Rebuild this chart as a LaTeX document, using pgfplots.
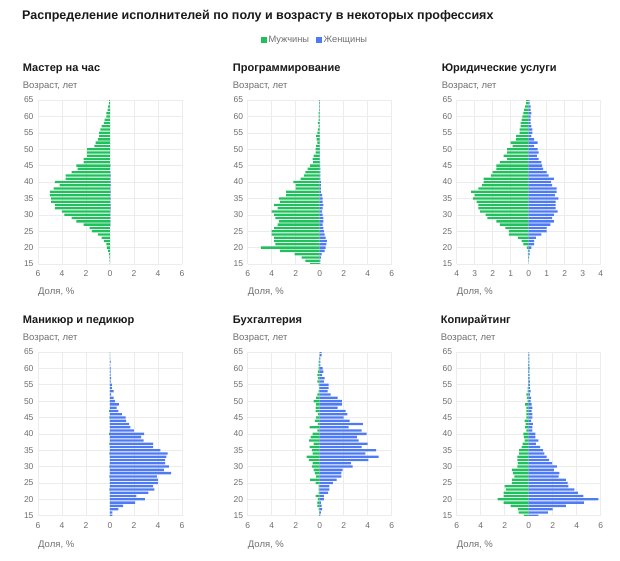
\documentclass[border=0pt]{standalone}
\usepackage{fontspec}
\setmainfont{Liberation Sans}
\usepackage{pgfplots}
\usepackage{pgfplotstable}
\pgfplotsset{compat=1.18}

\definecolor{mgreen}{RGB}{32,192,92}
\definecolor{wblue}{RGB}{78,122,244}
\definecolor{gridc}{RGB}{236,236,236}
\definecolor{tickc}{RGB}{110,110,110}
\definecolor{titc}{RGB}{25,25,25}

% age, men share, women share
\pgfplotstableread{
age m w
65 0.08 0
64 0.10 0
63 0.15 0
62 0.20 0
61 0.30 0
60 0.30 0
59 0.45 0
58 0.50 0
57 0.70 0
56 0.80 0
55 0.90 0
54 0.90 0
53 1.00 0
52 1.20 0
51 1.30 0
50 1.90 0
49 1.90 0
48 1.90 0
47 2.20 0
46 2.20 0
45 2.80 0.03
44 2.70 0
43 3.20 0.03
42 3.70 0.05
41 3.70 0.03
40 4.60 0.05
39 4.20 0.05
38 4.70 0.03
37 5.00 0.05
36 5.00 0.03
35 4.90 0.05
34 4.90 0.03
33 4.60 0.05
32 4.60 0.05
31 4.00 0.03
30 3.80 0.03
29 3.20 0.03
28 2.80 0.03
27 2.20 0.03
26 1.70 0
25 1.50 0
24 1.00 0
23 0.70 0
22 0.50 0
21 0.30 0
20 0.25 0
19 0.15 0
18 0.10 0
17 0.05 0
16 0.03 0
15 0.00 0
}\tabA

\pgfplotstableread{
age m w
65 0.05 0.02
64 0.05 0
63 0.05 0
62 0.05 0
61 0.10 0
60 0.10 0
59 0.10 0
58 0.15 0
57 0.10 0
56 0.15 0
55 0.20 0
54 0.30 0.02
53 0.25 0
52 0.20 0
51 0.30 0.02
50 0.35 0.02
49 0.35 0.02
48 0.50 0.02
47 0.60 0.02
46 0.55 0.03
45 0.80 0.03
44 1.00 0.05
43 1.20 0.05
42 1.30 0.05
41 1.60 0.05
40 2.20 0.10
39 2.00 0.10
38 2.00 0.10
37 2.80 0.10
36 2.80 0.20
35 3.40 0.25
34 3.30 0.25
33 3.80 0.30
32 3.50 0.25
31 4.00 0.20
30 3.80 0.25
29 3.70 0.30
28 3.40 0.30
27 3.50 0.25
26 3.80 0.30
25 4.00 0.35
24 4.00 0.40
23 3.80 0.50
22 3.80 0.60
21 3.70 0.55
20 4.90 0.50
19 3.30 0.40
18 2.10 0.15
17 1.50 0.10
16 1.20 0.05
15 0.80 0.05
}\tabB

\pgfplotstableread{
age m w
65 0.15 0.05
64 0.15 0.05
63 0.20 0.10
62 0.25 0.10
61 0.30 0.15
60 0.35 0.10
59 0.40 0.10
58 0.45 0.10
57 0.45 0.15
56 0.50 0.20
55 0.50 0.20
54 0.70 0.15
53 0.70 0.30
52 1.00 0.50
51 0.90 0.30
50 1.20 0.50
49 1.20 0.55
48 1.40 0.45
47 1.20 0.55
46 1.60 0.70
45 1.80 0.75
44 1.80 0.80
43 2.00 1.00
42 2.10 1.10
41 2.50 1.40
40 2.50 1.25
39 2.60 1.30
38 2.80 1.55
37 3.20 1.55
36 3.00 1.45
35 3.10 1.65
34 2.90 1.50
33 2.80 1.50
32 2.80 1.50
31 2.70 1.60
30 2.40 1.40
29 2.30 1.30
28 1.80 1.40
27 1.60 1.20
26 1.30 1.00
25 1.10 1.00
24 1.10 0.70
23 0.60 0.40
22 0.40 0.30
21 0.30 0.30
20 0.10 0.15
19 0.05 0.05
18 0.05 0.05
17 0.03 0.02
16 0.02 0
15 0 0
}\tabC

\pgfplotstableread{
age m w
65 0 0.02
64 0 0
63 0 0.02
62 0 0.05
61 0 0.02
60 0 0.05
59 0 0.05
58 0 0.05
57 0 0.10
56 0 0.05
55 0 0.15
54 0 0.15
53 0 0.30
52 0 0.10
51 0 0.30
50 0 0.40
49 0 0.75
48 0 0.55
47 0.08 0.70
46 0 1.00
45 0.05 1.30
44 0 1.35
43 0 1.60
42 0 1.70
41 0 2.00
40 0.08 2.85
39 0 2.60
38 0 2.80
37 0.05 3.60
36 0 3.60
35 0 4.20
34 0.05 4.80
33 0 4.70
32 0 4.60
31 0 4.60
30 0.05 4.90
29 0 4.50
28 0 5.10
27 0.05 3.90
26 0 4.00
25 0 4.00
24 0 3.60
23 0.05 3.70
22 0 3.20
21 0 2.20
20 0 2.90
19 0 2.10
18 0 1.10
17 0 0.70
16 0 0.20
15 0 0.20
}\tabD

\pgfplotstableread{
age m w
65 0 0.15
64 0 0.15
63 0.05 0.05
62 0.10 0.05
61 0.10 0.05
60 0.10 0.25
59 0.15 0.30
58 0.20 0.20
57 0.15 0.40
56 0.20 0.35
55 0.10 0.75
54 0.05 0.75
53 0.10 0.65
52 0.20 0.90
51 0.30 1.50
50 0.50 1.85
49 0.30 1.85
48 0.35 1.50
47 0.35 2.15
46 0.15 2.30
45 0.30 2.00
44 0.40 2.50
43 0.15 3.60
42 0.85 2.40
41 0.20 3.50
40 0.60 3.90
39 0.75 3.10
38 0.90 3.25
37 0.50 4.00
36 0.85 3.50
35 0.65 4.70
34 0.60 3.80
33 1.10 4.90
32 0.90 4.05
31 0.60 2.60
30 0.65 2.75
29 0.50 1.90
28 0.40 1.80
27 0.30 1.80
26 0.80 1.40
25 0.35 1.10
24 0.10 0.80
23 0.10 0.80
22 0.10 0.70
21 0.35 0.35
20 0.15 0.35
19 0.20 0.10
18 0.20 0.15
17 0.10 0.20
16 0.05 0.10
15 0.05 0.05
}\tabE

\pgfplotstableread{
age m w
65 0.02 0.03
64 0.03 0.05
63 0.03 0.05
62 0.03 0.05
61 0.05 0.05
60 0.05 0.08
59 0.05 0.05
58 0.05 0.08
57 0.05 0.08
56 0.05 0.10
55 0.05 0.10
54 0.10 0.10
53 0.10 0.15
52 0.20 0.10
51 0.15 0.20
50 0.10 0.15
49 0.30 0.25
48 0.20 0.30
47 0.20 0.25
46 0.20 0.30
45 0.20 0.30
44 0.35 0.20
43 0.25 0.35
42 0.30 0.30
41 0.20 0.30
40 0.45 0.55
39 0.40 0.55
38 0.35 0.80
37 0.50 0.60
36 0.60 0.95
35 0.80 1.20
34 0.80 1.30
33 0.95 1.50
32 0.95 1.70
31 0.90 1.95
30 0.95 2.35
29 1.40 2.10
28 1.30 2.55
27 1.20 2.50
26 1.40 3.10
25 1.40 3.25
24 2.00 3.30
23 1.90 3.80
22 2.10 4.10
21 2.10 4.55
20 2.60 5.80
19 2.10 4.60
18 1.50 3.10
17 0.90 2.00
16 0.85 1.60
15 0.40 0.80
}\tabF

\pgfplotsset{
  pyr/.style={
    width=144pt, height=164pt, scale only axis,
    anchor=south west,
    xmin=-6, xmax=6, ymin=15, ymax=65,
    xtick={-6,-4,...,6}, xticklabels={6,4,2,0,2,4,6},
    ytick={15,20,...,65},
    grid=major, major grid style={draw=gridc, line width=0.6pt},
    axis line style={draw=none}, major tick style={draw=none},
    tick label style={font=\fontsize{8.5}{10}\selectfont, text=tickc},
    /pgf/number format/assume math mode=true,
    xticklabel style={yshift=-3pt},
    yticklabel style={xshift=-1pt},
  },
  men/.style={xbar, bar shift=0pt, bar width=2.3pt, fill=mgreen, draw=none, forget plot},
  wom/.style={xbar, bar shift=0pt, bar width=2.3pt, fill=wblue, draw=none, forget plot},
}

\newcommand{\ptitle}[3]{\node[anchor=base west, inner sep=0pt, font=\fontsize{11}{13}\bfseries\selectfont, text=titc] at (#1pt,#2pt) {#3};}
\newcommand{\plab}[3]{\node[anchor=base west, font=\fontsize{9.5}{11}\selectfont, text=tickc, inner sep=0pt] at (#1pt,#2pt) {#3};}

\begin{document}
\begin{tikzpicture}
\useasboundingbox (0,0) rectangle (620pt,560pt);

\node[anchor=base west, inner sep=0pt, font=\fontsize{12.5}{14}\bfseries\selectfont, text=titc] at (22pt,540pt)
  {Распределение исполнителей по полу и возрасту в некоторых профессиях};

% row 1
\begin{axis}[pyr, at={(38pt,296pt)},
    legend style={at={(1.924,1.366)}, anchor=center, draw=none, fill=none,
      legend columns=2, font=\fontsize{9.3}{11}\selectfont, text=tickc,
      /tikz/every even column/.append style={column sep=5pt}},
    legend entries={Мужчины, Женщины}]
  \addlegendimage{legend image code/.code={\fill[mgreen] (0pt,-2.6pt) rectangle (5.2pt,2.6pt);}}
  \addlegendimage{legend image code/.code={\fill[wblue] (0pt,-2.6pt) rectangle (5.2pt,2.6pt);}}
  \addplot[men] table[x expr=-\thisrow{m}, y=age] {\tabA};
  \addplot[wom] table[x=w, y=age] {\tabA};
\end{axis}

\begin{axis}[pyr, at={(247.7pt,296pt)}]
  \addplot[men] table[x expr=-\thisrow{m}, y=age] {\tabB};
  \addplot[wom] table[x=w, y=age] {\tabB};
\end{axis}

\begin{axis}[pyr, at={(456.7pt,296pt)}, xmin=-4, xmax=4,
    xtick={-4,-3,...,4}, xticklabels={4,3,2,1,0,1,2,3,4}]
  \addplot[men] table[x expr=-\thisrow{m}, y=age] {\tabC};
  \addplot[wom] table[x=w, y=age] {\tabC};
\end{axis}

% row 2
\begin{axis}[pyr, at={(38pt,44.3pt)}, height=163.7pt]
  \addplot[men] table[x expr=-\thisrow{m}, y=age] {\tabD};
  \addplot[wom] table[x=w, y=age] {\tabD};
\end{axis}

\begin{axis}[pyr, at={(247.7pt,44.3pt)}, height=163.7pt]
  \addplot[men] table[x expr=-\thisrow{m}, y=age] {\tabE};
  \addplot[wom] table[x=w, y=age] {\tabE};
\end{axis}

\begin{axis}[pyr, at={(456.7pt,44.3pt)}, height=163.7pt]
  \addplot[men] table[x expr=-\thisrow{m}, y=age] {\tabF};
  \addplot[wom] table[x=w, y=age] {\tabF};
\end{axis}

% panel titles and axis labels
\ptitle{22.7}{488}{Мастер на час}
\ptitle{232.7}{488}{Программирование}
\ptitle{441.7}{488}{Юридические услуги}
\plab{22.7}{471}{Возраст, лет}
\plab{232.7}{471}{Возраст, лет}
\plab{441.7}{471}{Возраст, лет}
\plab{38}{266}{Доля, \%}
\plab{247.7}{266}{Доля, \%}
\plab{456.7}{266}{Доля, \%}

\ptitle{22.7}{237}{Маникюр и педикюр}
\ptitle{232.7}{237}{Бухгалтерия}
\ptitle{440.7}{237}{Копирайтинг}
\plab{22.7}{220}{Возраст, лет}
\plab{232.7}{220}{Возраст, лет}
\plab{440.7}{220}{Возраст, лет}
\plab{38}{13}{Доля, \%}
\plab{247.7}{13}{Доля, \%}
\plab{456.7}{13}{Доля, \%}
\end{tikzpicture}
\end{document}
